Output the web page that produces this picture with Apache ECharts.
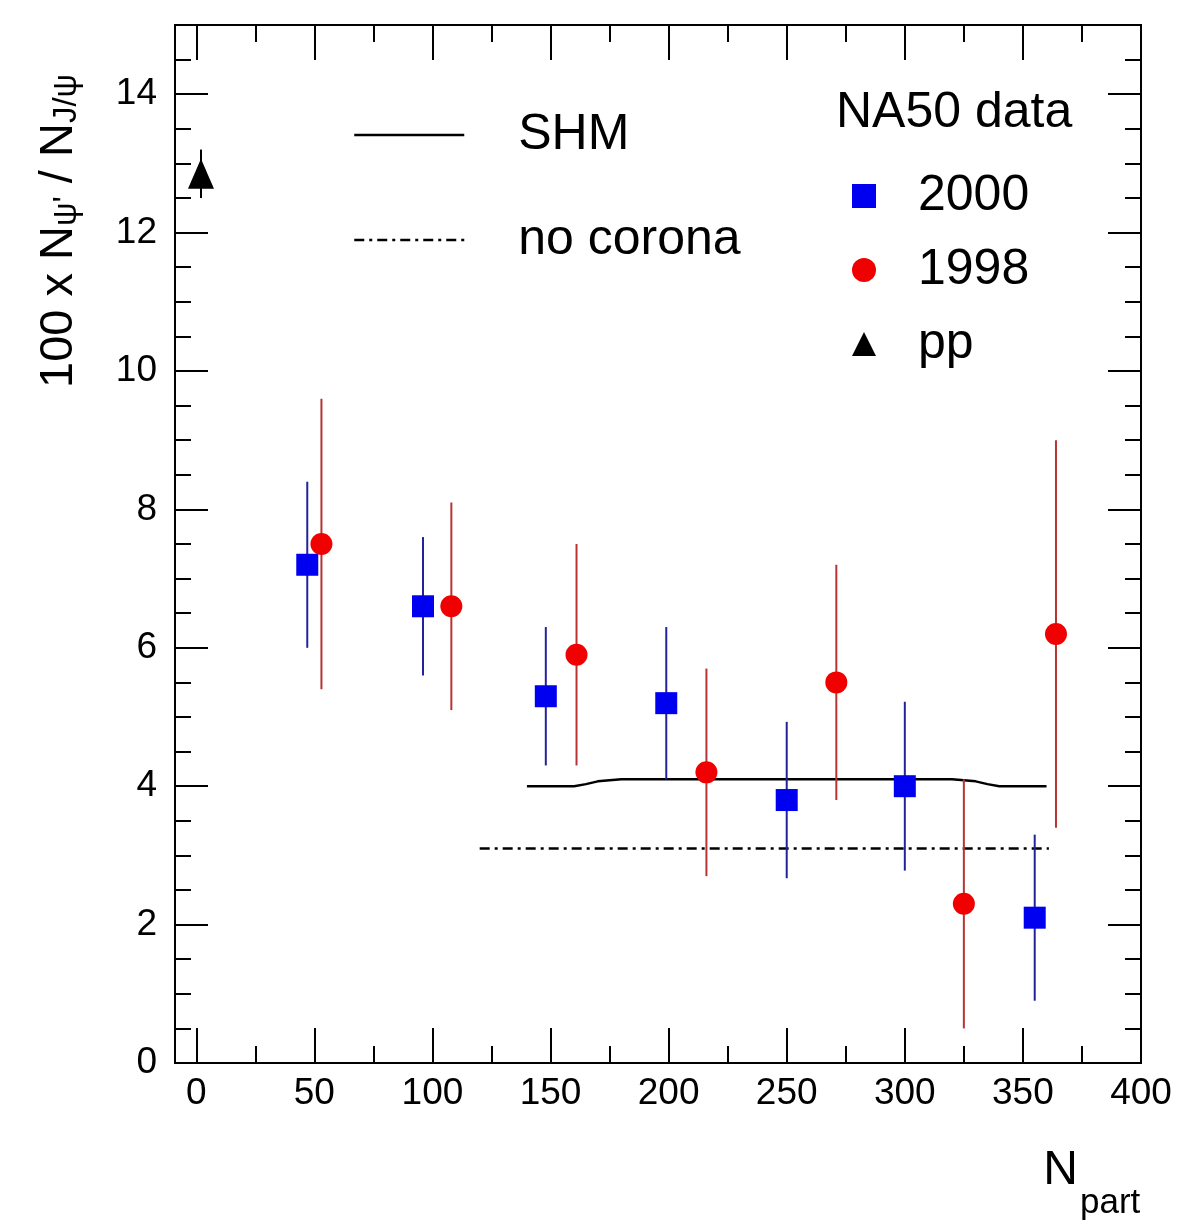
<!DOCTYPE html>
<html>
<head>
<meta charset="utf-8">
<script src="https://cdn.jsdelivr.net/npm/echarts@6/dist/echarts.min.js"></script>
<style>
html,body{margin:0;padding:0;background:#fff;}
#chart{width:1178px;height:1225px;}
</style>
</head>
<body>
<div id="chart"></div>
<script>
// ---- data ----
const blueX   = [47, 96, 148, 199, 250, 300, 355];
const blueY   = [7.2, 6.6, 5.3, 5.2, 3.8, 4.0, 2.1];
const blueErr = [1.2, 1.0, 1.0, 1.1, 1.13, 1.22, 1.2];

const redX    = [53, 108, 161, 216, 271, 325, 364];
const redY    = [7.5, 6.6, 5.9, 4.2, 5.5, 2.3, 6.2];
const redErr  = [2.1, 1.5, 1.6, 1.5, 1.7, 1.8, 2.8];

const ppX   = [2];
const ppY   = [12.85];
const ppErr = [0.35];

const shmX = [140, 160, 165, 170, 180, 320, 330, 335, 340, 360];
const shmY = [4.0, 4.0, 4.03, 4.07, 4.1, 4.1, 4.07, 4.03, 4.0, 4.0];

const ncX = [120, 361];
const ncY = [3.1, 3.1];

const xMajorTicks = [0, 50, 100, 150, 200, 250, 300, 350, 400];
const xMinorTicks = [25, 75, 125, 175, 225, 275, 325, 375];
const yMajorTicks = [0, 2, 4, 6, 8, 10, 12, 14];
const yMinorTicks = [0.5, 1, 1.5, 2.5, 3, 3.5, 4.5, 5, 5.5, 6.5, 7, 7.5, 8.5, 9, 9.5, 10.5, 11, 11.5, 12.5, 13, 13.5, 14.5];

// ---- build ----
const FONT = '"Liberation Sans", Arial, Helvetica, sans-serif';
const pairs = (xs, ys) => xs.map((x, i) => [x, ys[i]]);
const errData = (xs, ys, es) => xs.map((x, i) => [x, ys[i] - es[i], ys[i] + es[i]]);

function errSeries(name, data, color) {
  return {
    type: 'custom', name: name, data: data, z: 3, clip: true,
    encode: { x: 0, y: [1, 2] },
    renderItem: function (params, api) {
      const x = api.value(0);
      const p1 = api.coord([x, api.value(1)]);
      const p2 = api.coord([x, api.value(2)]);
      return { type: 'line', shape: { x1: p1[0], y1: p1[1], x2: p2[0], y2: p2[1] },
               style: { stroke: color, lineWidth: 2 } };
    }
  };
}

const lineStyleAxis = { color: '#000', width: 2 };
function xAx(pos, ticks, len, showLabel) {
  return {
    type: 'value', position: pos, min: -9, max: 400,
    axisLine: { show: true, onZero: false, lineStyle: lineStyleAxis },
    axisTick: { show: true, inside: true, length: len, customValues: ticks, lineStyle: lineStyleAxis },
    axisLabel: showLabel ? { show: true, customValues: xMajorTicks, fontSize: 37, fontFamily: FONT, color: '#000', margin: 12 } : { show: false },
    splitLine: { show: false }
  };
}
function yAx(pos, ticks, len, showLabel) {
  return {
    type: 'value', position: pos, min: 0, max: 15,
    axisLine: { show: true, onZero: false, lineStyle: lineStyleAxis },
    axisTick: { show: true, inside: true, length: len, customValues: ticks, lineStyle: lineStyleAxis },
    axisLabel: showLabel ? { show: true, customValues: yMajorTicks, fontSize: 37, fontFamily: FONT, color: '#000', margin: 18 } : { show: false },
    splitLine: { show: false }
  };
}

const chart = echarts.init(document.getElementById('chart'), null, { renderer: 'canvas' });
chart.setOption({
  backgroundColor: '#fff',
  animation: false,
  grid: { left: 175, right: 37, top: 25, bottom: 162, containLabel: false },
  xAxis: [
    xAx('bottom', xMajorTicks, 35, true),
    xAx('bottom', xMinorTicks, 17, false),
    xAx('top', xMajorTicks, 35, false),
    xAx('top', xMinorTicks, 17, false)
  ],
  yAxis: [
    yAx('left', yMajorTicks, 33, true),
    yAx('left', yMinorTicks, 16, false),
    yAx('right', yMajorTicks, 33, false),
    yAx('right', yMinorTicks, 16, false)
  ],
  legend: [
    {
      orient: 'vertical', left: 348, top: 100, itemWidth: 110, itemHeight: 30, itemGap: 45,
      data: ['SHM', 'no corona'],
      itemStyle: { opacity: 0 },
      lineStyle: { width: 2.5, color: '#000' },
      textStyle: { fontSize: 50, fontFamily: FONT, color: '#000', lineHeight: 60, padding: [0, 0, 0, 49] },
      selectedMode: false
    },
    {
      orient: 'vertical', left: 847, top: 161, itemWidth: 24, itemHeight: 24, itemGap: 14,
      data: ['2000', '1998', 'pp'],
      textStyle: { fontSize: 50, fontFamily: FONT, color: '#000', lineHeight: 60, padding: [0, 0, 0, 37] },
      selectedMode: false
    }
  ],
  graphic: [
    { type: 'text', x: 836, y: 113,
      style: { text: 'NA50 data', font: '50px ' + FONT, fill: '#000', textAlign: 'left', textVerticalAlign: 'middle' } },
    { type: 'text', x: 55, y: 388, rotation: Math.PI / 2,
      style: {
        text: '{m|100 x N}{s|ψ\'}{m| / N}{s|J/ψ}',
        textAlign: 'left', textVerticalAlign: 'middle', fill: '#000',
        rich: {
          m: { fontSize: 47, fontFamily: FONT, lineHeight: 56, verticalAlign: 'bottom', fill: '#000' },
          s: { fontSize: 33, fontFamily: FONT, lineHeight: 20, verticalAlign: 'bottom', fill: '#000' }
        }
      } },
    { type: 'text', x: 1078, y: 1171,
      style: { text: 'N', font: '48px ' + FONT, fill: '#000', textAlign: 'right', textVerticalAlign: 'middle' } },
    { type: 'text', x: 1080, y: 1203,
      style: { text: 'part', font: '35px ' + FONT, fill: '#000', textAlign: 'left', textVerticalAlign: 'middle' } }
  ],
  series: [
    { type: 'line', name: 'SHM', data: pairs(shmX, shmY), symbol: 'none', z: 2,
      lineStyle: { color: '#000', width: 2.5, type: 'solid' }, itemStyle: { color: '#000' } },
    { type: 'line', name: 'no corona', data: pairs(ncX, ncY), symbol: 'none', z: 2,
      lineStyle: { color: '#000', width: 2.5, type: [10, 5, 3, 5] }, itemStyle: { color: '#000' } },
    errSeries('err2000', errData(blueX, blueY, blueErr), '#22239a'),
    errSeries('err1998', errData(redX, redY, redErr), '#b83434'),
    errSeries('errpp', errData(ppX, ppY, ppErr), '#000'),
    { type: 'scatter', name: '2000', data: pairs(blueX, blueY), symbol: 'rect', symbolSize: 22, z: 5,
      itemStyle: { color: '#0000f0', opacity: 1 } },
    { type: 'scatter', name: '1998', data: pairs(redX, redY), symbol: 'circle', symbolSize: 22, z: 5,
      itemStyle: { color: '#f00000', opacity: 1 } },
    { type: 'scatter', name: 'pp', data: pairs(ppX, ppY), symbol: 'triangle', symbolSize: [26, 30], z: 5,
      itemStyle: { color: '#000', opacity: 1 } }
  ]
});
</script>
</body>
</html>
